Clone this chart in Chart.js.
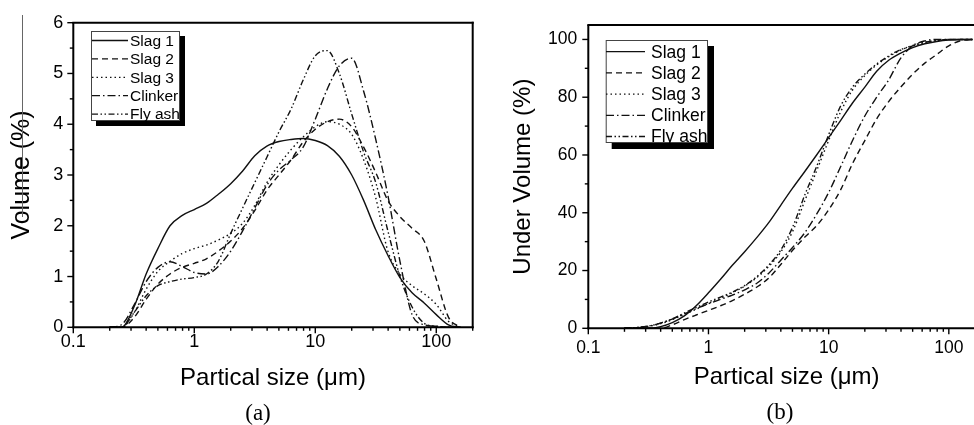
<!DOCTYPE html>
<html><head><meta charset="utf-8">
<script src="https://cdn.jsdelivr.net/npm/chart.js@4.4.1/dist/chart.umd.min.js"></script>
<style>
html,body{margin:0;padding:0;background:#fff;overflow:hidden;width:974px;height:425px;}
#wrap{position:relative;width:974px;height:425px;overflow:hidden;background:#fff;}
#c1{position:absolute;left:0;top:0;}
#c2{position:absolute;left:487px;top:0;}
</style></head><body>
<div id="wrap"><canvas id="c1" width="487" height="425"></canvas><canvas id="c2" width="510" height="425"></canvas></div>
<script>
// ---- data ----
const sizes = [0.2,0.25,0.32,0.4,0.5,0.63,0.79,1,1.26,1.58,2,2.51,3.16,3.98,5.01,6.31,7.94,10,12.6,15.8,20,25.1,31.6,39.8,50.1,63.1,79.4,100,126,158];
const seriesNames = ['Slag 1','Slag 2','Slag 3','Clinker','Fly ash'];

// (a) Volume (%)
const slag1Vol   = [0,0,0.42,1.05,1.55,2.0,2.2,2.32,2.44,2.62,2.83,3.08,3.38,3.57,3.66,3.70,3.72,3.68,3.58,3.37,3.0,2.5,1.92,1.42,0.98,0.68,0.48,0.25,0.05,0];
const slag2Vol   = [0,0,0.2,0.55,0.85,1.05,1.18,1.26,1.35,1.5,1.7,1.95,2.3,2.7,3.0,3.3,3.65,3.9,4.05,4.1,3.95,3.55,3.05,2.5,2.18,1.95,1.7,0.95,0.2,0];
const slag3Vol   = [0,0,0.3,0.75,1.1,1.3,1.45,1.55,1.62,1.72,1.85,2.05,2.4,2.85,3.2,3.5,3.75,3.95,4.05,4.0,3.8,3.3,2.55,1.5,1.05,0.82,0.66,0.45,0.12,0];
const clinkerVol = [0,0.05,0.45,0.9,1.18,1.29,1.2,1.08,1.05,1.2,1.5,1.9,2.35,2.8,3.1,3.3,3.55,4.1,4.7,5.15,5.3,4.65,3.7,2.6,1.3,0.25,0.05,0.02,0,0];
const flyAshVol  = [0,0,0.3,0.62,0.82,0.9,0.95,0.98,1.05,1.3,1.85,2.35,2.85,3.35,3.85,4.3,4.87,5.35,5.45,5.0,4.2,3.45,2.85,1.9,1.0,0.4,0.08,0.02,0,0];

// (b) Under Volume (%)
const slag1Cum   = [0,0,0,0.6,2.0,4.3,7.8,12.3,17,21.8,26.5,31.3,36.5,42.5,48.5,54.2,60,66,72,78,83.5,89,92.8,95.3,97.2,98.5,99.3,99.8,100,100];
const slag2Cum   = [0,0,0,0,1.2,3,4.6,6.2,7.8,9.6,11.8,14.2,17.3,22,27,31.5,35.5,41,48,57,65,72.5,78.5,83.5,88,91.8,94.8,97.8,99.6,100];
const slag3Cum   = [0,0.2,0.7,1.6,3.0,4.8,6.6,8.6,10.4,12.3,14.6,17.5,21.3,26.3,33.5,44,54.5,65,75,82.5,87.5,91.2,94,96.3,97.9,99,99.6,100,100,100];
const clinkerCum = [0,0.2,0.8,1.8,3.2,5,6.8,8.5,10,11.5,13.3,15.5,19,23.5,28,33,39.5,47,56,65,73.5,80,86,93.5,97.8,99.5,100,100,100,100];
const flyAshCum  = [0,0.3,0.8,1.8,3.3,5.3,7.2,9.1,10.8,12.5,14.8,17.8,21.8,27,35,46,56,67,77,83.5,88,91.5,94.3,96.5,97.8,99,99.6,100,100,100];

const xTickLabels = ['0.1','1','10','100'];
const xTickValues = [0.1,1,10,100];
const volTicks = [0,1,2,3,4,5,6];
const cumTicks = [0,20,40,60,80,100];

// ---- styling ----
const FONT = '"Liberation Sans", Arial, Helvetica, sans-serif';
const dashes = [[], [6,4], [1.5,3], [8,3,1.5,3], [6,2.5,1.5,2.5,1.5,2.5]];

function ds(i, arr){
  return {label: seriesNames[i], data: sizes.map((x,k)=>({x:x, y:arr[k]})),
    borderColor:'#111', borderWidth:1.4, borderDash:dashes[i], pointRadius:0,
    fill:false, cubicInterpolationMode:'monotone'};
}

function decor(o){
  return {
    id:'decor',
    afterDraw(chart){
      const ctx=chart.ctx, a=chart.chartArea, xs=chart.scales.x, ys=chart.scales.y;
      ctx.save();
      ctx.strokeStyle='#000'; ctx.setLineDash([]); ctx.lineWidth=1.4;
      const seg=(x1,y1,x2,y2)=>{ctx.beginPath();ctx.moveTo(x1,y1);ctx.lineTo(x2,y2);ctx.stroke();};
      for (const d of [0.1,1,10,100]) for (let k=1;k<10;k++){
        const v=d*k; if (v<xs.min-1e-9||v>xs.max+1e-9) continue;
        const px=xs.getPixelForValue(v);
        seg(px,a.bottom,px,a.bottom+(k===1?6:3.5));
      }
      for (let v=0; v<=ys.max+1e-9; v+=o.minorY){
        const major=Math.abs(v/o.majorY-Math.round(v/o.majorY))<1e-6;
        const py=ys.getPixelForValue(v);
        seg(a.left,py,a.left-(major?6:3.5),py);
      }
      ctx.lineWidth=2;
      seg(a.left,a.top,a.left,a.bottom+1);
      seg(a.left-1,a.bottom,a.right+1,a.bottom);
      seg(a.left-1,a.top,a.right+1,a.top);
      seg(a.right,a.top-1,a.right,a.bottom+1);
      const L=o.legend;
      ctx.fillStyle='#000';
      ctx.fillRect(L.x+L.sh, L.y+L.sh, L.w, L.h);
      ctx.fillStyle='#fff';
      ctx.fillRect(L.x, L.y, L.w, L.h);
      ctx.lineWidth=1; ctx.strokeStyle='#444';
      ctx.strokeRect(L.x+0.5, L.y+0.5, L.w-1, L.h-1);
      ctx.font=L.font+'px '+FONT; ctx.textAlign='left'; ctx.textBaseline='middle';
      chart.data.datasets.forEach((d,i)=>{
        const y=L.row0+i*L.gap;
        ctx.strokeStyle='#111'; ctx.lineWidth=1.3; ctx.setLineDash(d.borderDash);
        seg(L.lx0,y,L.lx1,y);
        ctx.setLineDash([]);
        ctx.fillStyle='#000'; ctx.fillText(d.label, L.tx, y+1);
      });
      ctx.font='23px "Liberation Serif", "Times New Roman", serif';
      ctx.textAlign='center'; ctx.textBaseline='middle'; ctx.fillStyle='#000';
      ctx.fillText(o.panel, o.panelX, o.panelY);
      if (o.stray){ ctx.strokeStyle='#666'; ctx.lineWidth=1; seg(o.stray,15,o.stray,217); }
      ctx.restore();
    }
  };
}

function makeChart(id, data, cfg){
  return new Chart(document.getElementById(id), {
    type:'line',
    data:{datasets:data},
    options:{
      responsive:false, animation:false, devicePixelRatio:1,
      layout:{padding:{left:0, right:cfg.padRight, top:cfg.padTop, bottom:0}},
      plugins:{legend:{display:false}, tooltip:{enabled:false}},
      scales:{
        x:{type:'logarithmic', min:0.1, max:200,
          afterBuildTicks:(s)=>{s.ticks=xTickValues.map(v=>({value:v}));},
          afterFit:(s)=>{s.height=cfg.xHeight;},
          grid:{display:false, drawTicks:false}, border:{display:false},
          ticks:{color:'#000', font:{family:FONT, size:cfg.tickSize}, padding:cfg.xPad,
            maxRotation:0, autoSkip:false, callback:(v,i)=>xTickLabels[i]},
          title:{display:true, text:'Partical size (μm)', color:'#000',
            font:{family:FONT, size:24}, padding:{top:0,bottom:cfg.xTitlePad}}},
        y:{type:'linear', min:0, max:cfg.yMax,
          afterBuildTicks:(s)=>{s.ticks=cfg.yTicks.map(v=>({value:v}));},
          afterFit:(s)=>{s.width=cfg.yWidth;},
          grid:{display:false, drawTicks:false}, border:{display:false},
          ticks:{color:'#000', font:{family:FONT, size:cfg.tickSize}, padding:cfg.yPad},
          title:{display:true, text:cfg.yTitle, color:'#000',
            font:{family:FONT, size:cfg.yTitleSize}, padding:{top:cfg.yTitlePad,bottom:0}}}
      }
    },
    plugins:[decor(cfg.decor)]
  });
}

makeChart('c1', [ds(0,slag1Vol),ds(1,slag2Vol),ds(2,slag3Vol),ds(3,clinkerVol),ds(4,flyAshVol)], {
  padRight:14.3, padTop:22.7, xHeight:97.7, yWidth:73.3, yMax:6, yTicks:volTicks,
  tickSize:18, xPad:4.4, yPad:10, xTitlePad:32.6, yTitle:'Volume (%)', yTitleSize:25, yTitlePad:7,
  decor:{minorY:0.5, majorY:1, panel:'(a)', panelX:258, panelY:414, stray:22.5,
    legend:{x:91, y:31, w:89, h:90, sh:5, row0:40.5, gap:18.4, lx0:92, lx1:128, tx:130, font:15.5}}
});

makeChart('c2', [ds(0,slag1Cum),ds(1,slag2Cum),ds(2,slag3Cum),ds(3,clinkerCum),ds(4,flyAshCum)], {
  padRight:12, padTop:25, xHeight:96.7, yWidth:101.3, yMax:105, yTicks:cumTicks,
  tickSize:17.5, xPad:9.5, yPad:11, xTitlePad:33.6, yTitle:'Under Volume (%)', yTitleSize:24, yTitlePad:21.6,
  decor:{minorY:10, majorY:20, panel:'(b)', panelX:293, panelY:413, stray:0,
    legend:{x:118.7, y:40, w:102.3, h:103, sh:6, row0:51.7, gap:21.2, lx0:119, lx1:158, tx:164, font:17.5}}
});
</script>
</body></html>
